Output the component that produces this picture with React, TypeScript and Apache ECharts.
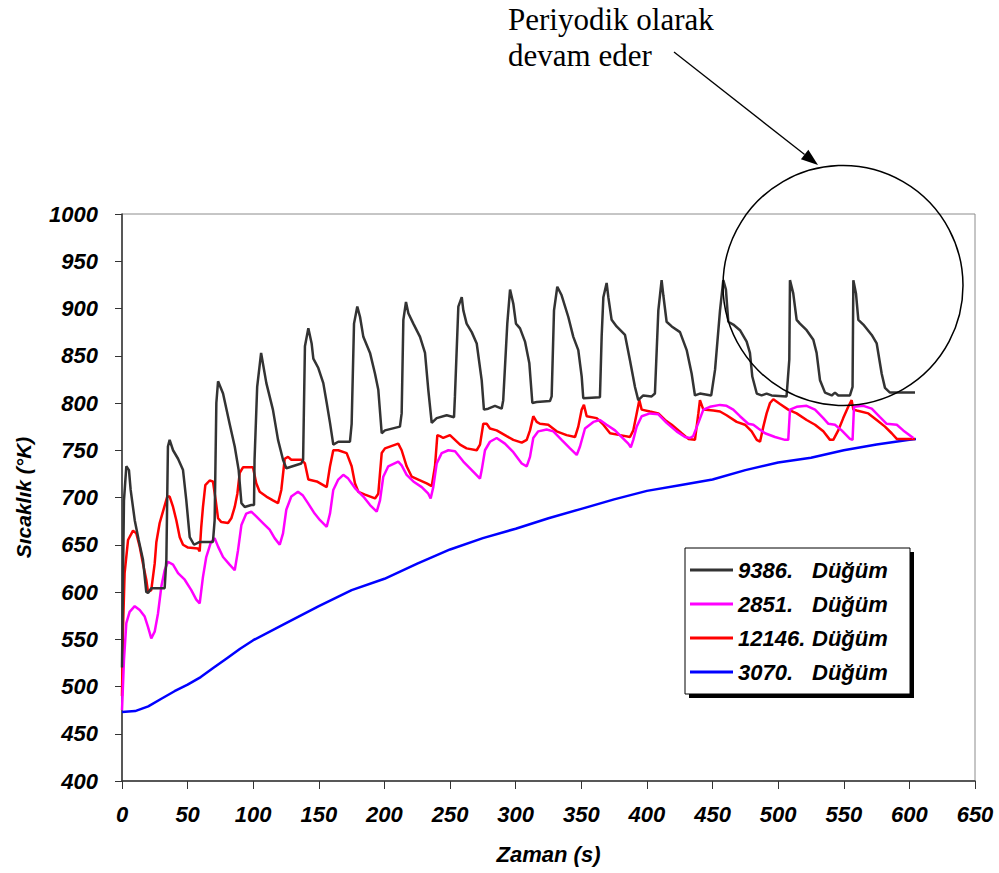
import React, { useEffect, useRef } from "react";
import * as echarts from "echarts";

// ---- Data (time in s, temperature in K) ----
const xTicks = [0, 650, 50];
const yTicks = [400, 1000, 50];

const nodeNumbers = ["9386.", "2851.", "12146.", "3070."];
const nodeWord = "Düğüm";
const nodeColors = ["#333333", "#ff00ff", "#ff0000", "#0000ff"];

const n9386Time = [0, 0.8, 1.5, 3.3, 5.3, 6.6, 9.7, 12.7, 16, 18.5, 19.8, 22.3, 32.5, 33.8, 35, 36.3, 38.9, 42.7, 46.5, 49, 51.6, 54.9, 59.2, 69.3, 70.6, 71.9, 73.2, 77, 82, 85.9, 88.9, 91, 93.5, 98.5, 100.6, 101, 103, 106, 110, 115, 118.9, 122.7, 125.2, 136.6, 138, 139.4, 142, 144.5, 145.8, 149.6, 153.4, 156, 158.5, 161, 164.8, 173.7, 175, 176.8, 179.3, 181.4, 183.9, 189, 192.8, 195.3, 197.9, 200.4, 211.8, 213.1, 214.4, 216.4, 218.2, 222, 227.1, 230.9, 233.4, 236, 239.8, 247.4, 253, 253.7, 256.3, 258.9, 260.1, 262.6, 266.5, 270.3, 274.1, 275.8, 279.1, 284.2, 289.3, 290.5, 293.6, 295.7, 298.2, 300.2, 303.3, 307.1, 310.4, 312.7, 316, 326.1, 327.4, 329.2, 331.7, 335, 340.1, 343.9, 347.7, 350.3, 351.5, 364.2, 365.5, 366.8, 369.3, 370.6, 373.1, 376.9, 383.3, 387.1, 390.9, 393.4, 397.2, 403.6, 406.1, 408.7, 411.2, 412.5, 415, 418.9, 425.2, 430.3, 434.1, 436.6, 440.4, 449, 451.9, 455.7, 458.2, 460.2, 462, 465.8, 470.9, 476, 478.5, 480.3, 483.7, 487.4, 491.2, 495, 506.4, 508.5, 509, 511.5, 514.1, 516.6, 521.7, 526.8, 529.3, 531.9, 535.7, 540.8, 543.3, 545.8, 554.7, 556.7, 557.3, 559.3, 561.1, 564.9, 571.3, 575.1, 578.9, 581.4, 585.2, 604.3];
const n9386Temp = [520, 620, 697, 733, 729, 708, 676, 655, 634, 600, 599, 604, 604, 634, 754, 761, 750, 741, 729, 697, 658, 650, 653, 653, 676, 800, 823, 810, 778, 754, 729, 694, 690, 692, 692, 740, 817, 853, 821, 793, 761, 740, 731, 736, 740, 860, 879, 863, 847, 837, 821, 800, 779, 756, 759, 759, 778, 884, 902, 891, 870, 853, 831, 814, 768, 771, 775, 789, 888, 907, 895, 884, 870, 853, 814, 779, 784, 787, 785, 807, 902, 912, 898, 884, 875, 863, 824, 793, 794, 797, 794, 803, 884, 920, 905, 884, 879, 865, 842, 800, 801, 802, 807, 898, 923, 914, 891, 870, 856, 828, 805, 806, 870, 912, 927, 912, 888, 881, 872, 845, 817, 803, 808, 807, 810, 898, 930, 914, 886, 881, 875, 856, 831, 808, 810, 808, 835, 898, 930, 920, 886, 883, 877, 865, 853, 828, 810, 808, 810, 808, 807, 846, 930, 916, 888, 884, 877, 867, 853, 824, 811, 808, 811, 808, 808, 817, 930, 916, 888, 883, 872, 863, 831, 816, 811, 811];

const n2851Time = [0, 1.5, 3.3, 5.8, 9.7, 13.5, 17.3, 19.8, 22.3, 24.9, 27.4, 30, 32.5, 35, 38.9, 42.7, 47.8, 52.8, 56.6, 59.2, 61.7, 64.2, 67.6, 70.6, 73.2, 77, 82, 85.9, 88.4, 91, 94.7, 98.5, 102.3, 107.4, 112.5, 116.3, 120.2, 122.7, 125.2, 129, 134.1, 137.9, 141.7, 146.8, 150.9, 156, 158.5, 161, 164.8, 168.6, 172.4, 177.5, 183.9, 189, 194.1, 196.6, 199.1, 202.9, 210.5, 213.1, 216.9, 222, 228.4, 233.4, 235.2, 237.2, 239.8, 243.6, 248.7, 253.8, 260.1, 266.5, 272.8, 274.1, 276.6, 280.4, 285.5, 291.8, 298.2, 304.6, 308.4, 310.9, 313.4, 317.2, 323.6, 328.7, 335, 341.4, 346.5, 349, 352.8, 359.2, 364.2, 369.3, 375.7, 380.8, 385.8, 387.7, 389.6, 392.2, 396, 402.3, 408.7, 415, 422.6, 429, 432.8, 435.3, 439.2, 443, 448, 455.7, 460.7, 465.8, 470.9, 477.2, 481.1, 484.9, 490, 497.6, 505.2, 507.7, 509, 514.1, 521.7, 528.1, 534.4, 538.3, 543.3, 548.4, 554.7, 556.7, 557.8, 564.9, 571.3, 577.6, 582.7, 590.4, 595.3, 603];
const n2851Temp = [475, 528, 567, 579, 585, 581, 574, 563, 551, 558, 577, 606, 623, 632, 629, 620, 613, 602, 592, 588, 616, 637, 652, 657, 648, 637, 629, 623, 644, 671, 683, 685, 680, 673, 666, 657, 650, 662, 687, 701, 706, 702, 694, 683, 676, 669, 683, 708, 719, 724, 720, 710, 701, 692, 685, 697, 722, 733, 738, 734, 724, 717, 711, 704, 699, 711, 736, 747, 750, 749, 738, 729, 720, 729, 750, 759, 763, 757, 748, 736, 733, 743, 763, 770, 772, 770, 761, 752, 745, 754, 773, 780, 782, 777, 771, 764, 757, 753, 761, 775, 786, 789, 788, 779, 770, 764, 763, 765, 779, 793, 796, 798, 797, 793, 786, 778, 777, 773, 768, 764, 761, 761, 793, 796, 797, 793, 784, 778, 777, 771, 762, 761, 796, 797, 794, 785, 778, 777, 771, 763];

const n12146Time = [0, 0.8, 2, 4.6, 8.4, 10.9, 13.5, 16, 18.5, 19.8, 22.3, 24.9, 26.2, 28.7, 31.2, 34.5, 36.3, 38.9, 41.4, 44, 46.5, 50.3, 57.9, 59.2, 60.4, 61.7, 63.5, 66.8, 69.3, 71.4, 73.2, 75.7, 80.8, 83.3, 85.9, 87.9, 89.7, 92.2, 99.8, 102.3, 104.9, 110, 115, 118.9, 121.4, 124, 126.5, 129, 136.6, 139.4, 142, 148.4, 156, 158.5, 161, 164.8, 171.2, 175, 177.5, 180.1, 185.2, 192.8, 195.3, 197.9, 200.4, 210.5, 213.1, 216.9, 220.8, 225.8, 232.2, 236, 238.5, 240.3, 242.3, 244.8, 249.9, 257.6, 262.6, 270.3, 272.8, 275.3, 277.9, 280.4, 285.5, 293.1, 298.2, 304.6, 308.4, 310.9, 313.4, 316, 318.5, 324.8, 331.2, 338.8, 345.2, 347.7, 350.3, 352, 354.1, 361.7, 366.8, 371.9, 379.5, 387.1, 389.6, 392.2, 394.2, 396, 402.3, 408.7, 413.8, 418.9, 426.5, 431.6, 436.6, 439.2, 440.4, 443, 450.6, 455.7, 460.7, 468.4, 474.7, 479.8, 483.7, 486.2, 488.7, 491.2, 493.8, 496.3, 501.4, 507.7, 514.1, 521.7, 528.1, 534.4, 539.5, 542, 545.8, 549.6, 553.4, 556, 557.3, 559.9, 568.7, 575.1, 581.4, 586.5, 590.4, 604.3];
const n12146Temp = [490, 563, 620, 655, 665, 662, 648, 630, 613, 600, 602, 630, 653, 673, 685, 701, 701, 690, 676, 658, 650, 647, 646, 643, 669, 690, 713, 718, 717, 697, 678, 674, 673, 678, 690, 704, 726, 732, 732, 715, 706, 701, 697, 694, 708, 741, 743, 740, 740, 736, 719, 717, 711, 733, 750, 750, 747, 733, 715, 706, 703, 699, 704, 747, 752, 757, 750, 733, 722, 719, 715, 712, 733, 766, 765, 763, 766, 756, 752, 750, 756, 778, 778, 773, 771, 765, 761, 758, 761, 771, 786, 780, 778, 777, 770, 766, 764, 775, 793, 798, 786, 784, 777, 768, 766, 764, 771, 789, 803, 793, 791, 789, 782, 777, 768, 762, 761, 789, 803, 793, 792, 791, 787, 780, 777, 770, 761, 759, 775, 789, 800, 804, 799, 793, 789, 782, 777, 770, 761, 761, 771, 784, 796, 803, 793, 792, 789, 782, 775, 768, 762, 762];

const n3070Time = [0, 10, 20, 30, 40, 50, 60, 70, 80, 90, 100, 125, 150, 175, 200, 225, 250, 275, 300, 325, 350, 375, 400, 425, 450, 475, 500, 525, 550, 575, 600, 605];
const n3070Temp = [473, 474, 479, 487, 495, 502, 510, 520, 530, 540, 549, 567, 585, 602, 614, 630, 645, 657, 667, 678, 688, 698, 707, 713, 719, 729, 737, 742, 750, 756, 761, 762];

const annotationText = "Periyodik olarak\ndevam eder";
const xName = "Zaman (s)";
const yName = "Sıcaklık (°K)";

const zip = (t: number[], v: number[]) => t.map((x, i) => [x, v[i]]);

const FONT = '"Liberation Sans", Arial, sans-serif';

export default function App() {
  const ref = useRef<HTMLDivElement>(null);

  useEffect(() => {
    if (!ref.current) return;
    const chart = echarts.init(ref.current, null, { renderer: "svg" });
    const seriesData = [
      zip(n9386Time, n9386Temp),
      zip(n2851Time, n2851Temp),
      zip(n12146Time, n12146Temp),
      zip(n3070Time, n3070Temp),
    ];
    const names = nodeNumbers.map((n) => `${n} ${nodeWord}`);

    const labelStyle = {
      fontFamily: FONT,
      fontWeight: "bold" as const,
      fontStyle: "italic" as const,
      fontSize: 22,
      color: "#000",
    };

    // arrow geometry (annotation)
    const ax1 = 674, ay1 = 52, ax2 = 818, ay2 = 165;
    const dx = ax2 - ax1, dy = ay2 - ay1;
    const len = Math.sqrt(dx * dx + dy * dy);
    const ux = dx / len, uy = dy / len;
    const hl = 17, hw = 6;
    const bx = ax2 - ux * hl, by = ay2 - uy * hl;

    chart.setOption({
      animation: false,
      backgroundColor: "#fff",
      grid: {
        left: 122,
        right: 24,
        top: 214,
        bottom: 92,
        show: true,
        borderColor: "#8c8c8c",
        borderWidth: 1,
      },
      xAxis: {
        type: "value",
        min: xTicks[0],
        max: xTicks[1],
        interval: xTicks[2],
        name: xName,
        nameLocation: "middle",
        nameGap: 62,
        nameTextStyle: { ...labelStyle, fontSize: 22 },
        axisLine: { show: true, lineStyle: { color: "#333", width: 1.5 } },
        axisTick: { show: true, length: 8, lineStyle: { color: "#333", width: 1 } },
        axisLabel: { ...labelStyle, margin: 22, formatter: (v: number) => String(v) },
        splitLine: { show: false },
      },
      yAxis: {
        type: "value",
        min: yTicks[0],
        max: yTicks[1],
        interval: yTicks[2],
        name: yName,
        nameLocation: "middle",
        nameGap: 88,
        nameTextStyle: { ...labelStyle, fontSize: 21 },
        axisLine: { show: true, lineStyle: { color: "#333", width: 1.5 } },
        axisTick: { show: true, length: 7, lineStyle: { color: "#333", width: 1 } },
        axisLabel: { ...labelStyle, margin: 24, formatter: (v: number) => String(v) },
        splitLine: { show: false },
      },
      legend: {
        orient: "vertical",
        left: 685,
        top: 549,
        padding: [10, 0, 10, 5],
        icon: "rect",
        itemWidth: 43,
        itemHeight: 3,
        itemGap: 12,
        z: 60,
        data: names,
        formatter: (name: string) => {
          const i = names.indexOf(name);
          return `{a|${nodeNumbers[i]}}{b|${nodeWord}}`;
        },
        textStyle: {
          ...labelStyle,
          fontSize: 22,
          rich: {
            a: { ...labelStyle, fontSize: 22, width: 74, height: 23 },
            b: { ...labelStyle, fontSize: 22, height: 23 },
          },
        },
      },
      graphic: [
        { type: "rect", z: 50, shape: { x: 689, y: 552, width: 225, height: 146 }, style: { fill: "#000" } },
        { type: "rect", z: 51, shape: { x: 685, y: 548, width: 225, height: 146 }, style: { fill: "#fff", stroke: "#000", lineWidth: 1 } },
        {
          type: "text",
          z: 55,
          x: 508,
          y: 1,
          style: {
            text: annotationText,
            font: '31px "Liberation Serif", "Times New Roman", serif',
            lineHeight: 36,
            fill: "#000",
          },
        },
        { type: "line", z: 55, shape: { x1: ax1, y1: ay1, x2: bx, y2: by }, style: { stroke: "#000", lineWidth: 1.3 } },
        {
          type: "polygon",
          z: 55,
          shape: {
            points: [
              [ax2, ay2],
              [bx - uy * hw, by + ux * hw],
              [bx + uy * hw, by - ux * hw],
            ],
          },
          style: { fill: "#000" },
        },
        { type: "circle", z: 55, shape: { cx: 843, cy: 285.5, r: 120 }, style: { fill: "none", stroke: "#000", lineWidth: 1.5 } },
      ],
      series: seriesData.map((d, i) => ({
        name: names[i],
        type: "line",
        data: d,
        symbol: "none",
        showSymbol: false,
        smooth: false,
        lineStyle: { color: nodeColors[i], width: 2.5 },
        itemStyle: { color: nodeColors[i] },
        z: 2 + (3 - i),
      })),
    });
    return () => chart.dispose();
  }, []);

  return (
    <div
      ref={ref}
      style={{ position: "absolute", left: 0, top: 0, width: 999, height: 873 }}
    />
  );
}
